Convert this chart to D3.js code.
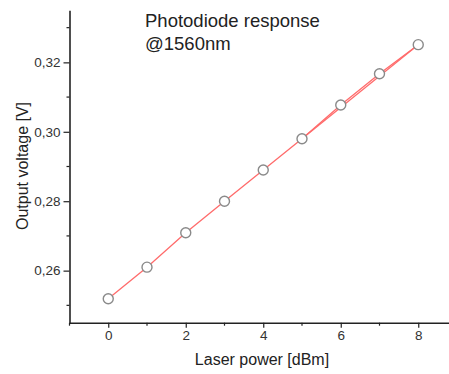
<!DOCTYPE html>
<html>
<head>
<meta charset="utf-8">
<script src="https://cdn.jsdelivr.net/npm/d3@7"></script>
<style>
  body { margin: 0; background: #fff; }
  svg { display: block; font-family: "Liberation Sans", Arial, sans-serif; }
</style>
</head>
<body>
<svg id="chart" width="449" height="374"></svg>
<script>
// data
const power = [0, 1, 2, 3, 4, 5, 6, 7, 8];
const voltage = [0.2519, 0.2610, 0.2709, 0.2800, 0.2890, 0.2980, 0.3077, 0.3167, 0.3251];
// second trace, only between 5 and 8 dBm
const power2 = [5, 8];
const voltage2 = [0.2980, 0.3251];
const xTicks = [0, 2, 4, 6, 8];
const yTicks = [0.26, 0.28, 0.30, 0.32];

const svg = d3.select('#chart');

const x = d3.scaleLinear().domain([-1, 9]).range([69.5, 457]);
const y = d3.scaleLinear().domain([0.245, 0.335]).range([322.7, 10.3]);

const axisColor = '#222';
const lineColor = '#ff6b6b';

// minor ticks
const xMinor = d3.range(-1, 9.01, 1).filter(d => !xTicks.includes(d));
const yMinor = [0.25, 0.27, 0.29, 0.31, 0.33];

svg.append('g')
  .selectAll('line')
  .data(xMinor)
  .enter()
  .append('line')
  .attr('x1', d => x(d))
  .attr('x2', d => x(d))
  .attr('y1', y(0.245))
  .attr('y2', y(0.245) + 3)
  .attr('stroke', axisColor)
  .attr('stroke-width', 1.2);

svg.append('g')
  .selectAll('line')
  .data(yMinor)
  .enter()
  .append('line')
  .attr('x1', x(-1) - 3)
  .attr('x2', x(-1))
  .attr('y1', d => y(d))
  .attr('y2', d => y(d))
  .attr('stroke', axisColor)
  .attr('stroke-width', 1.2);

const xAxis = g => g
  .attr('transform', `translate(0,${y(0.245)})`)
  .call(d3.axisBottom(x).tickValues(xTicks).tickSize(5).tickPadding(3).tickSizeOuter(0)
    .tickFormat(d3.format('d')));

const yAxis = g => g
  .attr('transform', `translate(${x(-1)},0)`)
  .call(d3.axisLeft(y).tickValues(yTicks).tickSize(6).tickPadding(3).tickSizeOuter(0)
    .tickFormat(d => d3.format('.2f')(d).replace('.', ',')));

[svg.append('g').call(xAxis), svg.append('g').call(yAxis)].forEach(g => {
  g.select('.domain').attr('stroke', axisColor).attr('stroke-width', 1.6);
  g.selectAll('.tick line').attr('stroke', axisColor).attr('stroke-width', 1.2);
  g.selectAll('.tick text').attr('fill', '#333').style('font-size', '13.5px')
    .style('font-family', '"Liberation Sans", Arial, sans-serif');
});

// axis titles
svg.append('text')
  .attr('x', 262)
  .attr('y', 365)
  .attr('text-anchor', 'middle')
  .attr('fill', '#222')
  .style('font-size', '16px')
  .text('Laser power [dBm]');

svg.append('text')
  .attr('transform', 'translate(28,166) rotate(-90)')
  .attr('text-anchor', 'middle')
  .attr('fill', '#222')
  .style('font-size', '16px')
  .text('Output voltage [V]');

// lines
const line = d3.line()
  .x(d => x(d[0]))
  .y(d => y(d[1]));

svg.append('path')
  .datum(d3.zip(power2, voltage2))
  .attr('fill', 'none')
  .attr('stroke', lineColor)
  .attr('stroke-width', 1.3)
  .attr('d', line);

svg.append('path')
  .datum(d3.zip(power, voltage))
  .attr('fill', 'none')
  .attr('stroke', lineColor)
  .attr('stroke-width', 1.3)
  .attr('d', line);

svg.append('g')
  .selectAll('circle')
  .data(d3.zip(power, voltage))
  .enter()
  .append('circle')
  .attr('cx', d => x(d[0]))
  .attr('cy', d => y(d[1]))
  .attr('r', 5)
  .attr('fill', '#fff')
  .attr('stroke', '#8a8a8a')
  .attr('stroke-width', 1.4);

// title
const title = svg.append('text')
  .attr('x', 145)
  .attr('fill', '#222')
  .style('font-size', '18.5px');
title.append('tspan').attr('x', 145).attr('y', 27).text('Photodiode response');
title.append('tspan').attr('x', 145).attr('y', 50).text('@1560nm');
</script>
</body>
</html>
